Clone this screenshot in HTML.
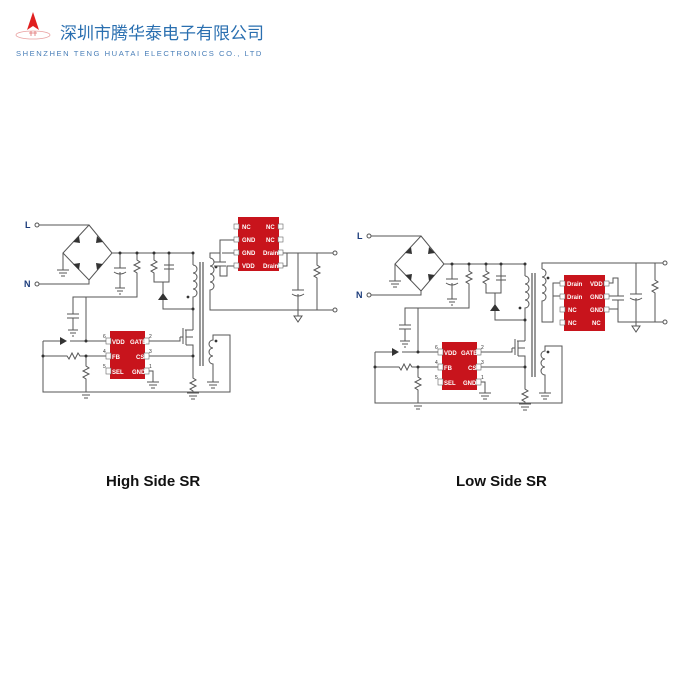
<!DOCTYPE html>
<html><head><meta charset="utf-8"><style>
body{margin:0;background:#fff;width:700px;height:700px;overflow:hidden}
svg{display:block}
</style></head><body>
<svg width="700" height="700" viewBox="0 0 700 700" xmlns="http://www.w3.org/2000/svg" font-family="Liberation Sans, sans-serif">
<!-- logo -->
<ellipse cx="33" cy="35" rx="17" ry="4" fill="none" stroke="#e9a0a0" stroke-width="0.8"/>
<polygon points="33,12 27,30 33,26 39,30" fill="#e02020"/>
<path d="M29,33 h8 M31,31 v5 M35,31 v5" stroke="#e07070" stroke-width="0.8"/>
<text x="60" y="39" font-family="Liberation Sans, Noto Sans CJK SC, sans-serif" font-size="17" fill="#2a6fb0">深圳市腾华泰电子有限公司</text>
<text x="16" y="56" font-size="7.6" fill="#4a7fb8" letter-spacing="1.55">SHENZHEN TENG HUATAI ELECTRONICS CO., LTD</text>

<g fill="none" stroke="#555" stroke-width="1">
<!-- LEFT primary -->
<g>
<circle cx="37" cy="225" r="2"/><circle cx="37" cy="284" r="2"/>
<path d="M39,225 H89 M89,225 L112,253 L89,280 L63,253 Z M39,284 H89 V280"/>
<path d="M63,253 V270 M57,270 h12 M59,273 h8 M61,276 h4"/>
<path d="M112,253 H193 V265"/>
<path d="M120,253 V268 M114,268 h12 M114,272 q6,4 12,0 M120,272 V288 M115,288 h10 M117,291 h6 M119,294 h2"/>
<path d="M137,253 V260 l3,2 -6,3 6,3 -6,3 3,2 V297 H73 V314 M67,314 h12 M67,318 h12 M73,318 V330 M68,330 h10 M70,333 h6 M72,336 h2"/>
<path d="M86,297 V341"/>
<path d="M154,253 V260 l3,2 -6,3 6,3 -6,3 3,2 V282 H169 V253 M164,265 h10 M164,269 h10" />
<path d="M163,282 V309 H193"/>
<path d="M193,265 a4,4 0 0 1 0,8 a4,4 0 0 1 0,8 a4,4 0 0 1 0,8 a4,4 0 0 1 0,8 V330"/>
<path d="M200,262 V366 M203,262 V366" stroke-width="1.2"/>
<path d="M193,330 H185 M183,328 V344 M186,330 V345 M186,337 H193 M186,345 H193 V378 l3,2 -6,3 6,3 -6,3 3,2 V393 M187,393 h12 M189,396 h8 M191,399 h4"/>
<path d="M145,341 H180 V337 M180,337 H183"/>
<path d="M145,356 H193"/>
<path d="M145,371 H153 V382 M147,382 h12 M149,385 h8 M151,388 h4"/>
<path d="M110,341 H70 M43,341 H60 M43,341 V392 H230 V335 H213 V340 a4,4 0 0 0 0,8 a4,4 0 0 0 0,8 a4,4 0 0 0 0,8 V382 M207,382 h12 M209,385 h8 M211,388 h4"/>
<path d="M110,356 H80 l-2,-3 -3,6 -3,-6 -3,6 -2,-3 H43 M86,356 V366 l3,2 -6,3 6,3 -6,3 3,2 V392 M80,392 h12 M82,395 h8 M84,398 h4"/>
<path d="M110,371 H106"/>
</g>
<g fill="#333" stroke="none">
<polygon points="73,242 79,236 80,243"/><polygon points="97,236 103,242 96,243"/>
<polygon points="73,264 80,263 79,270"/><polygon points="96,263 103,264 97,270"/>
<polygon points="60,337 60,345 67,341"/>
<polygon points="158,300 168,300 163,293"/>
<circle cx="193" cy="253" r="1.5"/><circle cx="137" cy="253" r="1.5"/><circle cx="120" cy="253" r="1.5"/><circle cx="154" cy="253" r="1.5"/><circle cx="169" cy="253" r="1.5"/><circle cx="86" cy="341" r="1.5"/><circle cx="86" cy="356" r="1.5"/><circle cx="193" cy="356" r="1.5"/><circle cx="193" cy="309" r="1.5"/><circle cx="43" cy="356" r="1.5"/>
<circle cx="188" cy="297" r="1.4"/><circle cx="216" cy="267" r="1.4"/><circle cx="216" cy="341" r="1.4"/>
</g>

<!-- LEFT secondary (High side) -->
<path d="M210,258 a4,4 0 0 1 0,8 a4,4 0 0 1 0,8 a4,4 0 0 1 0,8 a4,4 0 0 1 0,8 V310 H333 M210,258 V253 H220 V240 H236 M222,253 H236 M220,253 V262 M214,262 h12 M214,266 h12 M220,266 V276 H227 V266 H236"/>
<path d="M280,253 H333 M280,266 H287 V253 M298,253 V290 M292,290 h12 M292,294 q6,4 12,0 M298,294 V310 M294,316 h8 l-4,6 z M298,310 V316 M317,253 V265 l3,2 -6,3 6,3 -6,3 3,2 V310"/>
<circle cx="335" cy="253" r="2"/><circle cx="335" cy="310" r="2"/>

<!-- RIGHT primary copy -->
<g transform="translate(332,11)">
<circle cx="37" cy="225" r="2"/><circle cx="37" cy="284" r="2"/>
<path d="M39,225 H89 M89,225 L112,253 L89,280 L63,253 Z M39,284 H89 V280"/>
<path d="M63,253 V270 M57,270 h12 M59,273 h8 M61,276 h4"/>
<path d="M112,253 H193 V265"/>
<path d="M120,253 V268 M114,268 h12 M114,272 q6,4 12,0 M120,272 V288 M115,288 h10 M117,291 h6 M119,294 h2"/>
<path d="M137,253 V260 l3,2 -6,3 6,3 -6,3 3,2 V297 H73 V314 M67,314 h12 M67,318 h12 M73,318 V330 M68,330 h10 M70,333 h6 M72,336 h2"/>
<path d="M86,297 V341"/>
<path d="M154,253 V260 l3,2 -6,3 6,3 -6,3 3,2 V282 H169 V253 M164,265 h10 M164,269 h10"/>
<path d="M163,282 V309 H193"/>
<path d="M193,265 a4,4 0 0 1 0,8 a4,4 0 0 1 0,8 a4,4 0 0 1 0,8 a4,4 0 0 1 0,8 V330"/>
<path d="M200,262 V366 M203,262 V366" stroke-width="1.2"/>
<path d="M193,330 H185 M183,328 V344 M186,330 V345 M186,337 H193 M186,345 H193 V378 l3,2 -6,3 6,3 -6,3 3,2 V393 M187,393 h12 M189,396 h8 M191,399 h4"/>
<path d="M145,341 H180 V337 M180,337 H183"/>
<path d="M145,356 H193"/>
<path d="M145,371 H153 V382 M147,382 h12 M149,385 h8 M151,388 h4"/>
<path d="M110,341 H70 M43,341 H60 M43,341 V392 H230 V335 H213 V340 a4,4 0 0 0 0,8 a4,4 0 0 0 0,8 a4,4 0 0 0 0,8 V382 M207,382 h12 M209,385 h8 M211,388 h4"/>
<path d="M110,356 H80 l-2,-3 -3,6 -3,-6 -3,6 -2,-3 H43 M86,356 V366 l3,2 -6,3 6,3 -6,3 3,2 V392 M80,392 h12 M82,395 h8 M84,398 h4"/>
<path d="M110,371 H106"/>
<g fill="#333" stroke="none">
<polygon points="73,242 79,236 80,243"/><polygon points="97,236 103,242 96,243"/>
<polygon points="73,264 80,263 79,270"/><polygon points="96,263 103,264 97,270"/>
<polygon points="60,337 60,345 67,341"/>
<polygon points="158,300 168,300 163,293"/>
<circle cx="193" cy="253" r="1.5"/><circle cx="137" cy="253" r="1.5"/><circle cx="120" cy="253" r="1.5"/><circle cx="154" cy="253" r="1.5"/><circle cx="169" cy="253" r="1.5"/><circle cx="86" cy="341" r="1.5"/><circle cx="86" cy="356" r="1.5"/><circle cx="193" cy="356" r="1.5"/><circle cx="193" cy="309" r="1.5"/><circle cx="43" cy="356" r="1.5"/>
<circle cx="188" cy="297" r="1.4"/><circle cx="216" cy="267" r="1.4"/><circle cx="216" cy="341" r="1.4"/>
</g>
</g>

<!-- RIGHT secondary (Low side) -->
<path d="M542,269 a4,4 0 0 1 0,8 a4,4 0 0 1 0,8 a4,4 0 0 1 0,8 a4,4 0 0 1 0,8 V322 H553 V283 H562 M553,296 H562 M542,269 V263 H663 M607,283 H613 V278 H618 V296 M612,296 h12 M612,300 h12 M618,300 V316 M607,296 H618 M607,309 H618 M618,309 V322 H663 M636,263 V294 M630,294 h12 M630,298 q6,4 12,0 M636,298 V322 M632,326 h8 l-4,6 z M636,322 V326 M655,263 V280 l3,2 -6,3 6,3 -6,3 3,2 V322"/>
<circle cx="665" cy="263" r="2"/><circle cx="665" cy="322" r="2"/>
</g>

<!-- chips -->
<g font-size="6" fill="#fff" font-weight="bold">
<rect x="238" y="217" width="41" height="54" fill="#c8141c"/>
<g fill="#fff" stroke="#666" stroke-width="0.6"><rect x="234" y="224" width="5" height="5"/><rect x="234" y="237" width="5" height="5"/><rect x="234" y="250" width="5" height="5"/><rect x="234" y="263" width="5" height="5"/><rect x="278" y="224" width="5" height="5"/><rect x="278" y="237" width="5" height="5"/><rect x="278" y="250" width="5" height="5"/><rect x="278" y="263" width="5" height="5"/></g>
<text x="242" y="229">NC</text><text x="242" y="242">GND</text><text x="242" y="255">GND</text><text x="242" y="268">VDD</text>
<text x="266" y="229">NC</text><text x="266" y="242">NC</text><text x="263" y="255">Drain</text><text x="263" y="268">Drain</text>

<rect x="564" y="275" width="41" height="56" fill="#c8141c"/>
<g fill="#fff" stroke="#666" stroke-width="0.6"><rect x="560" y="281" width="5" height="5"/><rect x="560" y="294" width="5" height="5"/><rect x="560" y="307" width="5" height="5"/><rect x="560" y="320" width="5" height="5"/><rect x="604" y="281" width="5" height="5"/><rect x="604" y="294" width="5" height="5"/><rect x="604" y="307" width="5" height="5"/></g>
<text x="567" y="286">Drain</text><text x="567" y="299">Drain</text><text x="568" y="312">NC</text><text x="568" y="325">NC</text>
<text x="590" y="286">VDD</text><text x="590" y="299">GND</text><text x="590" y="312">GND</text><text x="592" y="325">NC</text>

<rect x="110" y="331" width="35" height="48" fill="#c8141c"/>
<rect x="442" y="342" width="35" height="48" fill="#c8141c"/>
<g fill="#fff" stroke="#666" stroke-width="0.6"><rect x="106" y="338" width="5" height="6"/><rect x="106" y="353" width="5" height="6"/><rect x="106" y="368" width="5" height="6"/><rect x="144" y="338" width="5" height="6"/><rect x="144" y="353" width="5" height="6"/><rect x="144" y="368" width="5" height="6"/>
<rect x="438" y="349" width="5" height="6"/><rect x="438" y="364" width="5" height="6"/><rect x="438" y="379" width="5" height="6"/><rect x="476" y="349" width="5" height="6"/><rect x="476" y="364" width="5" height="6"/><rect x="476" y="379" width="5" height="6"/></g>
<text x="112" y="344">VDD</text><text x="112" y="359">FB</text><text x="112" y="374">SEL</text><text x="130" y="344">GATE</text><text x="136" y="359">CS</text><text x="132" y="374">GND</text>
<text x="444" y="355">VDD</text><text x="444" y="370">FB</text><text x="444" y="385">SEL</text><text x="461" y="355">GATE</text><text x="468" y="370">CS</text><text x="463" y="385">GND</text>
</g>
<g font-size="5" fill="#333">
<text x="103" y="338">6</text><text x="103" y="353">4</text><text x="103" y="368">5</text><text x="149" y="338">2</text><text x="149" y="353">3</text><text x="149" y="368">1</text>
<text x="435" y="349">6</text><text x="435" y="364">4</text><text x="435" y="379">5</text><text x="481" y="349">2</text><text x="481" y="364">3</text><text x="481" y="379">1</text>
</g>

<g font-weight="bold" fill="#1a3a7a" font-size="9">
<text x="25" y="228">L</text><text x="24" y="287">N</text>
<text x="357" y="239">L</text><text x="356" y="298">N</text>
</g>
<g font-weight="bold" fill="#111" font-size="15">
<text x="106" y="486">High Side SR</text>
<text x="456" y="486">Low Side SR</text>
</g>
</svg>
</body></html>
